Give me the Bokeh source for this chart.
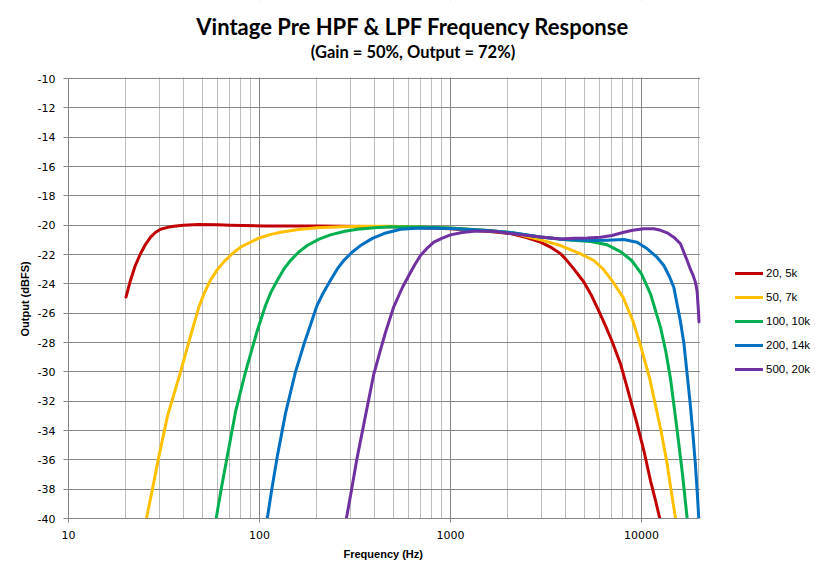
from bokeh.plotting import figure
from bokeh.models import (Range1d, FixedTicker, NumeralTickFormatter, Legend, LegendItem, Label, Title)
from bokeh.embed import file_html
from bokeh.resources import INLINE

# ---- data ----
series_names = ["20, 5k", "50, 7k", "100, 10k", "200, 14k", "500, 20k"]
series_colors = ["#C00000", "#FFC000", "#00B050", "#0070C0", "#7030A0"]

red_f = [20, 21.1, 22.3, 23.8, 25.2, 26.9, 28.5, 30.3, 33, 35.6, 40, 48, 60, 70, 105, 200, 500,
         1000, 1500, 2060, 2500, 2960, 3400, 3770, 4000, 4420, 5000, 5500, 6000, 6500, 7000, 7760,
         8300, 9480, 10300, 11140, 11800, 12470]
red_db = [-24.9, -23.77, -22.8, -21.95, -21.35, -20.82, -20.5, -20.28, -20.15, -20.07, -20.0, -19.95,
          -19.97, -20.0, -20.05, -20.06, -20.1, -20.25, -20.4, -20.57, -20.85, -21.16, -21.55, -21.95,
          -22.3, -22.98, -23.89, -24.85, -25.9, -26.9, -27.9, -29.45, -30.8, -33.55, -35.4, -37.41,
          -38.7, -40]

yellow_f = [25.6, 27.5, 29.7, 33, 38.6, 43, 48.1, 51.5, 55.4, 60, 65, 72, 79.6, 90, 99, 112, 128.8,
            160, 200, 270, 351, 500, 1000, 1560, 2060, 2960, 3770, 4800, 5630, 6300, 7000, 8000,
            9000, 10000, 11050, 11590, 12600, 13620, 14300, 15070]
yellow_db = [-40, -38, -35.8, -33, -30, -27.8, -25.6, -24.6, -23.75, -23.05, -22.5, -21.95, -21.5,
             -21.15, -20.89, -20.66, -20.48, -20.3, -20.18, -20.1, -20.07, -20.08, -20.2, -20.36, -20.5,
             -21.0, -21.39, -21.96, -22.41, -23.0, -23.77, -24.91, -26.5, -28.43, -30.48, -31.73,
             -33.9, -36.27, -38.1, -40]

green_f = [59.3, 63, 67.7, 75, 84.5, 97.3, 107.5, 115, 123.8, 134, 145.3, 160, 177.6, 205, 235, 280,
           324.5, 400, 485, 700, 1000, 1560, 2060, 2960, 4000, 5400, 6620, 7760, 8880, 10000, 11140,
           12570, 13400, 14190, 15370, 16400, 17340]
green_db = [-40, -38, -35.8, -32.7, -30, -27.2, -25.48, -24.55, -23.77, -23.0, -22.41, -21.85, -21.39,
            -20.95, -20.66, -20.42, -20.28, -20.17, -20.11, -20.13, -20.2, -20.36, -20.5, -20.8, -21.0,
            -21.11, -21.34, -21.8, -22.41, -23.32, -24.68, -26.95, -28.6, -30.48, -34.0, -37.0, -40]

blue_f = [109.8, 116, 123.8, 137, 154.3, 172, 186, 200, 217, 235, 255, 276, 305, 338, 390, 448, 548,
          700, 1000, 1560, 2060, 2960, 4000, 5400, 6600, 8080, 9480, 10720, 12080, 13090, 14000,
          14760, 15960, 16650, 17220, 18030, 18600, 19170, 19600, 19950]
blue_db = [-40, -38, -35.8, -32.8, -30, -28, -26.7, -25.48, -24.55, -23.77, -23.0, -22.41, -21.85,
           -21.39, -20.9, -20.57, -20.28, -20.2, -20.22, -20.36, -20.5, -20.8, -20.98, -21.05, -21.02,
           -20.98, -21.16, -21.61, -22.2, -22.75, -23.5, -24.23, -26.5, -28.0, -29.8, -32.3, -34.3,
           -36.4, -38.3, -40]

purple_f = [285, 300, 324, 360, 396, 430, 457, 505, 560, 605, 650, 696, 750, 818, 900, 1000, 1150,
            1325, 1690, 2060, 2960, 3770, 4420, 5200, 6100, 7000, 8080, 9000, 10280, 11590, 12600,
            13620, 14750, 16000, 17340, 18030, 18600, 19170, 19550, 19900, 20000]
purple_db = [-40, -38.4, -35.9, -32.9, -30.2, -28.5, -27.3, -25.55, -24.25, -23.43, -22.7, -22.07,
             -21.6, -21.16, -20.9, -20.66, -20.5, -20.41, -20.41, -20.57, -20.8, -20.95, -20.9, -20.87,
             -20.82, -20.7, -20.48, -20.35, -20.25, -20.25, -20.35, -20.52, -20.82, -21.27, -22.41,
             -23.0, -23.4, -23.9, -24.5, -26.0, -26.6]

x_min, x_max = 10, 20000
y_min, y_max = -40, -10
x_major_ticks = [10, 100, 1000, 10000]
x_minor_ticks = [20, 30, 40, 50, 60, 70, 80, 90,
                 200, 300, 400, 500, 600, 700, 800, 900,
                 2000, 3000, 4000, 5000, 6000, 7000, 8000, 9000,
                 20000]
y_ticks = list(range(-40, -9, 2))

title_text = "Vintage Pre HPF & LPF Frequency Response"
subtitle_text = "(Gain = 50%, Output = 72%)"
x_label = "Frequency (Hz)"
y_label = "Output (dBFS)"

# ---- layout geometry (pixels) ----
FIG_W, FIG_H = 810, 565
FRAME_L, FRAME_B = 68, 518          # plot-area left / bottom edge
PX_PER_DEC = 191.0                  # pixels per decade on x
PX_PER_DB = 440.0 / 30.0            # pixels per dB on y


def px_to_x(px):
    return x_min * 10 ** ((px - FRAME_L) / PX_PER_DEC)


def py_to_y(py):
    return y_min + (FRAME_B - py) / PX_PER_DB


x_end = px_to_x(FIG_W)   # frame spans to the right edge (legend lives inside)
y_end = py_to_y(0)       # frame spans to the top edge (titles live inside)

p = figure(width=FIG_W, height=FIG_H, x_axis_type="log",
           x_range=Range1d(x_min, x_end), y_range=Range1d(y_min, y_end),
           output_backend="svg", toolbar_location=None,
           min_border_left=FRAME_L, min_border_right=0, min_border_top=0,
           min_border_bottom=FIG_H - FRAME_B)
p.outline_line_color = None
p.background_fill_color = "white"
p.border_fill_color = "white"

major_grid = "#868686"
minor_grid = "#BDBDBD"

p.xaxis.ticker = FixedTicker(ticks=x_major_ticks, minor_ticks=x_minor_ticks)
p.yaxis.ticker = FixedTicker(ticks=y_ticks, minor_ticks=[])
p.xaxis.formatter = NumeralTickFormatter(format="0")
p.yaxis.formatter = NumeralTickFormatter(format="0")
p.xaxis.bounds = (x_min, x_max)
p.yaxis.bounds = (y_min, y_max)

p.xgrid.grid_line_color = major_grid
p.xgrid.minor_grid_line_color = minor_grid
p.ygrid.grid_line_color = major_grid

for ax in (p.xaxis, p.yaxis):
    ax.axis_line_color = major_grid
    ax.major_tick_line_color = major_grid
    ax.minor_tick_line_color = None
    ax.major_tick_in = 0
    ax.major_label_text_font = "DejaVu Sans"
    ax.major_label_text_font_size = "11px"
    ax.major_label_text_color = "#000000"

p.xaxis.major_tick_out = 4
p.xaxis.major_label_standoff = 8
p.yaxis.major_tick_out = 5
p.yaxis.major_label_standoff = 8

# axis titles, centred on the 10..20000 / -40..-10 plot area
p.add_layout(Title(text=x_label, align="left", offset=275, standoff=8, vertical_align="bottom",
                   text_font="Liberation Sans", text_font_style="bold", text_font_size="11px",
                   text_color="#000000"), "below")
p.add_layout(Title(text=y_label, align="left", offset=182, standoff=8, vertical_align="bottom",
                   text_font="Liberation Sans", text_font_style="bold", text_font_size="11px",
                   text_color="#000000"), "left")

# white masks so that the grid stays inside the 10..20000 / -40..-10 plot area
one_px_x = 10 ** (1 / PX_PER_DEC)
one_px_y = 1 / PX_PER_DB
p.quad(left=x_min, right=x_end, bottom=y_max + one_px_y, top=y_end,
       fill_color="white", line_color=None)
p.quad(left=x_max * one_px_x, right=x_end, bottom=y_min, top=y_end,
       fill_color="white", line_color=None)

all_f = [red_f, yellow_f, green_f, blue_f, purple_f]
all_db = [red_db, yellow_db, green_db, blue_db, purple_db]
items = []
for name, col, fx, dy in zip(series_names, series_colors, all_f, all_db):
    r = p.line(fx, dy, line_color=col, line_width=3, line_join="round", line_cap="round")
    items.append(LegendItem(label=name, renderers=[r]))

legend = Legend(items=items, location=(735 - FRAME_L, FRAME_B - 379), orientation="vertical",
                glyph_width=28, glyph_height=20, label_height=20, spacing=4,
                label_standoff=3, padding=0, margin=0,
                label_text_font="Liberation Sans", label_text_font_size="11.5px",
                label_text_color="#000000", label_text_baseline="middle",
                border_line_color=None, background_fill_alpha=0)
p.add_layout(legend, "center")

p.add_layout(Label(x=px_to_x(412.5), y=py_to_y(26), text=title_text,
                   text_align="center", text_baseline="middle", text_font="Lato",
                   text_font_style="bold", text_font_size="22px", text_color="#000000"))
p.add_layout(Label(x=px_to_x(412.5), y=py_to_y(51.5), text=subtitle_text,
                   text_align="center", text_baseline="middle", text_font="Lato",
                   text_font_style="bold", text_font_size="16.5px", text_color="#000000"))

open("out.html", "w").write(file_html(p, INLINE))
